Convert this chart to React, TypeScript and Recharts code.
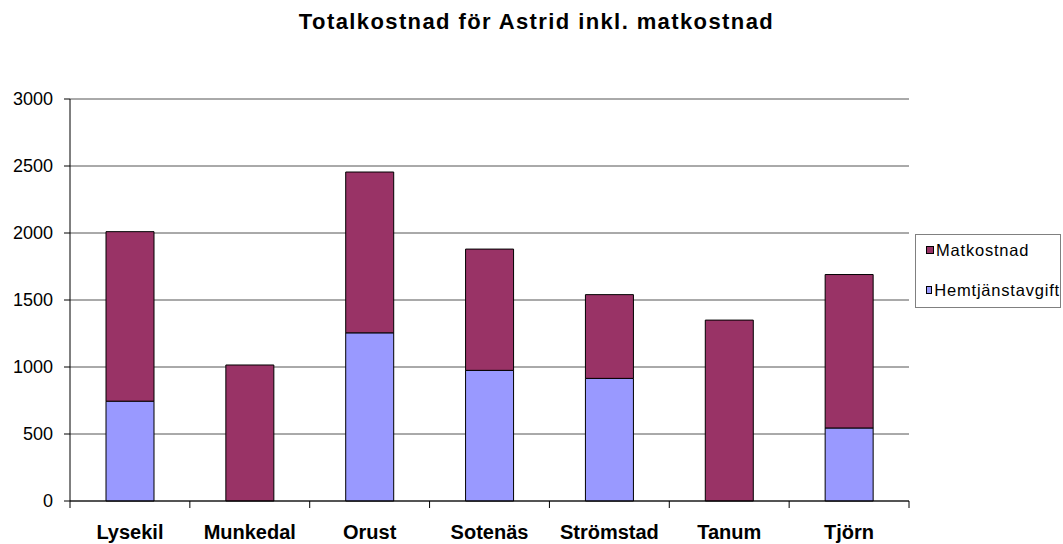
import React from "react";
import { BarChart, Bar, XAxis, YAxis, CartesianGrid, Legend } from "recharts";

const categories = ["Lysekil", "Munkedal", "Orust", "Sotenäs", "Strömstad", "Tanum", "Tjörn"];
const hemtjanstavgift = [745, 0, 1255, 975, 915, 0, 545];
const matkostnad = [1265, 1015, 1200, 905, 625, 1350, 1145];
const yTicks = [0, 500, 1000, 1500, 2000, 2500, 3000];
const seriesNames = ["Hemtjänstavgift", "Matkostnad"];
const seriesColors = ["#9999FF", "#993366"];
const title = "Totalkostnad för Astrid inkl. matkostnad";

const data = categories.map((c, i) => ({
  name: c,
  hem: hemtjanstavgift[i],
  mat: matkostnad[i],
}));

const FONT = "'Liberation Sans', Arial, sans-serif";

const XTick = (props: any) => {
  const { x, y, payload, index, visibleTicksCount, width } = props;
  const half =
    payload && payload.offset ? payload.offset : width / visibleTicksCount / 2;
  const last = index === visibleTicksCount - 1;
  return (
    <g>
      <line x1={x - half} x2={x - half} y1={y} y2={y + 7} stroke="#000" strokeWidth={1} />
      {last && (
        <line x1={x + half} x2={x + half} y1={y} y2={y + 7} stroke="#000" strokeWidth={1} />
      )}
      <text
        x={x}
        y={y + 38}
        textAnchor="middle"
        fontFamily={FONT}
        fontWeight="bold"
        fontSize={20}
        fill="#000"
      >
        {payload.value}
      </text>
    </g>
  );
};

const LegendBox = () => {
  const items = seriesNames.map((n, i) => ({ n, c: seriesColors[i] })).reverse();
  return (
    <div
      style={{
        width: 146,
        height: 74,
        boxSizing: "border-box",
        border: "1px solid #808080",
        background: "#fff",
        paddingTop: 5,
        paddingLeft: 10,
        fontFamily: FONT,
        fontSize: 16.5,
        letterSpacing: 0.8,
        color: "#000",
      }}
    >
      {items.map((it, i) => (
        <div
          key={it.n}
          style={{
            height: 20,
            lineHeight: "20px",
            display: "flex",
            alignItems: "center",
            marginTop: i === 0 ? 0 : 19.5,
            whiteSpace: "nowrap",
          }}
        >
          <span
            style={{
              display: "inline-block",
              width: 8,
              height: 8,
              boxSizing: "border-box",
              border: "1px solid #000",
              background: it.c,
              marginRight: 2,
            }}
          />
          <span>{it.n}</span>
        </div>
      ))}
    </div>
  );
};

export default function App() {
  return (
    <div
      style={{
        position: "absolute",
        left: 0,
        top: 0,
        width: 1063,
        height: 544,
        background: "#fff",
      }}
    >
      <div
        style={{
          position: "absolute",
          left: 0,
          top: 11,
          width: 1073,
          textAlign: "center",
          fontFamily: FONT,
          fontWeight: "bold",
          fontSize: 22,
          lineHeight: "22px",
          letterSpacing: 1.4,
          color: "#000",
          whiteSpace: "nowrap",
        }}
      >
        {title}
      </div>
      <BarChart
        width={1063}
        height={544}
        data={data}
        margin={{ top: 99, right: 8, bottom: 0, left: 0 }}
        barSize={48}
      >
        <CartesianGrid vertical={false} stroke="#555" strokeWidth={1} />
        <XAxis
          dataKey="name"
          height={43}
          axisLine={{ stroke: "#000", strokeWidth: 1 }}
          tickLine={false}
          tickSize={0}
          tickMargin={0}
          interval={0}
          tick={<XTick />}
        />
        <YAxis
          width={70}
          domain={[0, 3000]}
          ticks={yTicks}
          interval={0}
          axisLine={{ stroke: "#000", strokeWidth: 1 }}
          tickLine={{ stroke: "#000", strokeWidth: 1 }}
          tickSize={6}
          tickMargin={11}
          tick={{ fontFamily: FONT, fontSize: 18, fill: "#000" }}
        />
        <YAxis
          yAxisId="r"
          orientation="right"
          width={0}
          domain={[0, 3000]}
          tick={false}
          tickLine={false}
          axisLine={{ stroke: "#808080", strokeWidth: 1 }}
        />
        <Legend
          layout="vertical"
          align="right"
          verticalAlign="middle"
          width={146}
          wrapperStyle={{ right: 2, top: 234 }}
          content={<LegendBox />}
        />
        <Bar
          dataKey="hem"
          name={seriesNames[0]}
          stackId="s"
          fill={seriesColors[0]}
          stroke="#000"
          strokeWidth={1}
          isAnimationActive={false}
        />
        <Bar
          dataKey="mat"
          name={seriesNames[1]}
          stackId="s"
          fill={seriesColors[1]}
          stroke="#000"
          strokeWidth={1}
          isAnimationActive={false}
        />
      </BarChart>
    </div>
  );
}
